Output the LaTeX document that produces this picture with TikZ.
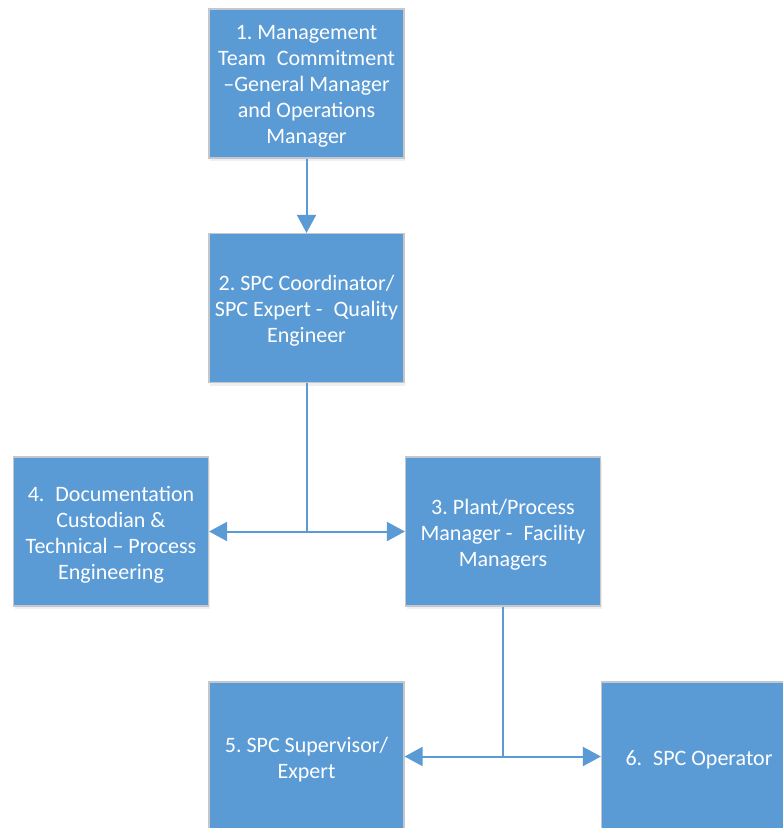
\documentclass[tikz,border=0pt]{standalone}
\usepackage{fontspec}
\setmainfont{Carlito}
\usetikzlibrary{arrows.meta,shadows}
\definecolor{boxblue}{HTML}{5B9BD5}
\definecolor{boxedge}{HTML}{C4C8CC}
\definecolor{linkblue}{HTML}{5B9BD5}
\frenchspacing
% centred box text, set a little below the box middle
\newcommand{\orgtext}[1]{\raisebox{-3pt}[\height][\depth]{\parbox{190pt}{\centering #1}}}
\begin{document}
\begin{tikzpicture}[x=1pt,y=-1pt,
  orgbox/.style={rectangle, fill=boxblue, draw=boxedge, line width=1.2pt,
    minimum width=195pt, minimum height=149pt, inner sep=0pt,
    text=white, font=\fontsize{22}{26}\selectfont,
    drop shadow={opacity=0.12, shadow xshift=1pt, shadow yshift=-3pt}},
  link/.style={draw=linkblue, line width=2pt},
  tip/.style={-{Triangle[length=18pt,width=19pt]}},
  both/.style={{Triangle[length=18pt,width=19pt]}-{Triangle[length=18pt,width=19pt]}}]
\useasboundingbox (0,0) rectangle (783,828);
\clip (0,0) rectangle (783,828);
\fill[white] (0,0) rectangle (783,828);

\node[orgbox] (b1) at (306.5,83.5) {\orgtext{1. Management\\Team\enspace Commitment\\--General Manager\\and Operations\\Manager}};
\node[orgbox] (b2) at (306.5,308) {\orgtext{2. SPC Coordinator/\\SPC Expert -\enspace Quality\\Engineer}};
\node[orgbox] (b4) at (111,531.5) {\orgtext{4.\enspace Documentation\\Custodian \&\\Technical -- Process\\Engineering}};
\node[orgbox] (b3) at (503,531.5) {\orgtext{3. Plant/Process\\Manager -\enspace Facility\\Managers}};
\node[orgbox] (b5) at (306.5,756.5) {\orgtext{5. SPC Supervisor/\\Expert}};
\node[orgbox] (b6) at (699,756.5) {\orgtext{6.\enspace SPC Operator}};

\coordinate (j1) at (b2.south |- b4.east);
\coordinate (j2) at (b3.south |- b5.east);

\draw[link,tip] (b1.south) -- (b2.north);
\draw[link] (b2.south) -- (j1);
\draw[link,both] (b4.east) -- (b3.west);
\draw[link] (b3.south) -- (j2);
\draw[link,both] (b5.east) -- (b6.west);
\end{tikzpicture}
\end{document}
